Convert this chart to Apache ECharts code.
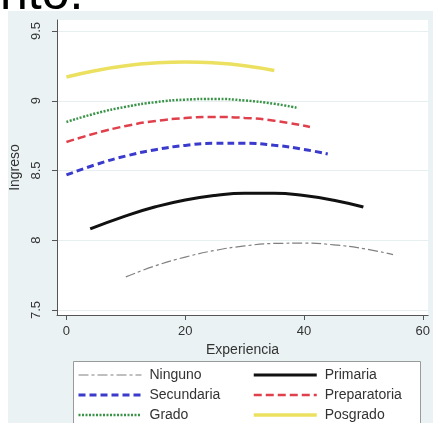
<!DOCTYPE html>
<html>
<head>
<meta charset="utf-8">
<script src="https://cdn.jsdelivr.net/npm/echarts@6/dist/echarts.min.js"></script>
<style>
html,body{margin:0;padding:0;background:#fff;}
#c{width:433px;height:423px;}
</style>
</head>
<body>
<div id="c"></div>
<script>
// ---- data ----
var xTicks = [0, 20, 40, 60];
var yTicks = [7.5, 8, 8.5, 9, 9.5];

var xNinguno = [10, 15, 20, 25, 30, 35, 40, 45, 50, 55];
var yNinguno = [7.737, 7.817, 7.879, 7.927, 7.959, 7.977, 7.979, 7.967, 7.940, 7.897];

var xPrimaria = [4, 10, 15, 20, 25, 30, 35, 40, 45, 50];
var yPrimaria = [8.081, 8.175, 8.240, 8.289, 8.321, 8.337, 8.337, 8.320, 8.287, 8.238];

var xSecundaria = [0, 5, 10, 15, 20, 25, 30, 35, 40, 44];
var ySecundaria = [8.468, 8.543, 8.604, 8.649, 8.680, 8.695, 8.695, 8.681, 8.651, 8.618];

var xPreparatoria = [0, 5, 10, 15, 20, 25, 30, 35, 41];
var yPreparatoria = [8.704, 8.768, 8.819, 8.855, 8.876, 8.884, 8.877, 8.857, 8.812];

var xGrado = [0, 5, 10, 15, 20, 25, 30, 35, 39];
var yGrado = [8.848, 8.910, 8.957, 8.990, 9.008, 9.013, 9.002, 8.978, 8.948];

var xPosgrado = [0, 5, 10, 15, 20, 25, 30, 35];
var yPosgrado = [9.170, 9.217, 9.251, 9.271, 9.278, 9.271, 9.251, 9.217];

var legendLeft = ['Ninguno', 'Secundaria', 'Grado'];
var legendRight = ['Primaria', 'Preparatoria', 'Posgrado'];

function zip(xs, ys) { return xs.map(function (x, i) { return [x, ys[i]]; }); }

var FONT = 'Liberation Sans, Arial, sans-serif';
var TXT = '#333';

function line(name, xs, ys, color, width, type) {
  return {
    name: name, type: 'line', data: zip(xs, ys), smooth: true,
    symbol: 'none', showSymbol: false, z: 2,
    lineStyle: { color: color, width: width, type: type },
    itemStyle: { color: color },
    emphasis: { disabled: true }
  };
}

var chart = echarts.init(document.getElementById('c'), null, { renderer: 'canvas' });
var legendCommon = {
  orient: 'vertical', padding: 0, itemWidth: 63, itemHeight: 14, itemGap: 6,
  selectedMode: false,
  itemStyle: { opacity: 0 },
  lineStyle: { width: 'inherit' },
  textStyle: { fontFamily: FONT, fontSize: 14, color: TXT, lineHeight: 14, padding: [0, 0, 0, 3] }
};
chart.setOption({
  animation: false,
  backgroundColor: '#ffffff',
  graphic: [
    { type: 'rect', z: -100, shape: { x: 8, y: 11, width: 430, height: 420 }, style: { fill: '#eaf2f3' } },
    { type: 'text', z: 10, style: { text: 'nto.', x: 0, y: -5, font: '50px Liberation Sans', fill: '#000', textVerticalAlign: 'middle' } },
    { type: 'rect', z: 1, shape: { x: 73.5, y: 361.5, width: 347, height: 80 }, style: { fill: '#ffffff', stroke: '#9a9a9a', lineWidth: 1 } }
  ],
  grid: { left: 57, top: 20, width: 373, height: 295, show: true, backgroundColor: '#ffffff', borderWidth: 0, containLabel: false },
  xAxis: {
    type: 'value', min: -1.59, max: 60.9,
    name: 'Experiencia', nameLocation: 'middle', nameGap: 26,
    nameTextStyle: { fontFamily: FONT, fontSize: 14, color: TXT },
    axisLine: { show: true, onZero: false, lineStyle: { color: '#555', width: 1 } },
    axisTick: { show: true, length: 5, customValues: xTicks, lineStyle: { color: '#555' } },
    axisLabel: { customValues: xTicks, margin: 10, fontFamily: FONT, fontSize: 13, color: TXT },
    splitLine: { show: false }
  },
  yAxis: {
    type: 'value', min: 7.464, max: 9.579,
    name: 'Ingreso', nameLocation: 'middle', nameGap: 27, nameRotate: 90,
    nameTextStyle: { fontFamily: FONT, fontSize: 14, color: TXT },
    axisLine: { show: true, onZero: false, lineStyle: { color: '#555', width: 1 } },
    axisTick: { show: true, length: 5, customValues: yTicks, lineStyle: { color: '#555' } },
    axisLabel: { customValues: yTicks, rotate: 90, margin: 14, fontFamily: FONT, fontSize: 13, color: TXT },
    splitLine: { show: true, lineStyle: { color: '#e6eef0', width: 1 } }
  },
  legend: [
    Object.assign({}, legendCommon, { data: legendLeft, left: 77, top: 368 }),
    Object.assign({}, legendCommon, { data: legendRight, left: 252, top: 368 })
  ],
  series: [
    line('Ninguno', xNinguno, yNinguno, '#808080', 1.2, [10, 3, 3, 3]),
    line('Primaria', xPrimaria, yPrimaria, '#111111', 3, 'solid'),
    line('Secundaria', xSecundaria, ySecundaria, '#3a3acc', 3, [7, 4]),
    line('Preparatoria', xPreparatoria, yPreparatoria, '#e0404c', 2.5, [8, 4]),
    line('Grado', xGrado, yGrado, '#3a9448', 2.5, [2, 1.5]),
    line('Posgrado', xPosgrado, yPosgrado, '#ece060', 3.5, 'solid')
  ]
});
</script>
</body>
</html>
